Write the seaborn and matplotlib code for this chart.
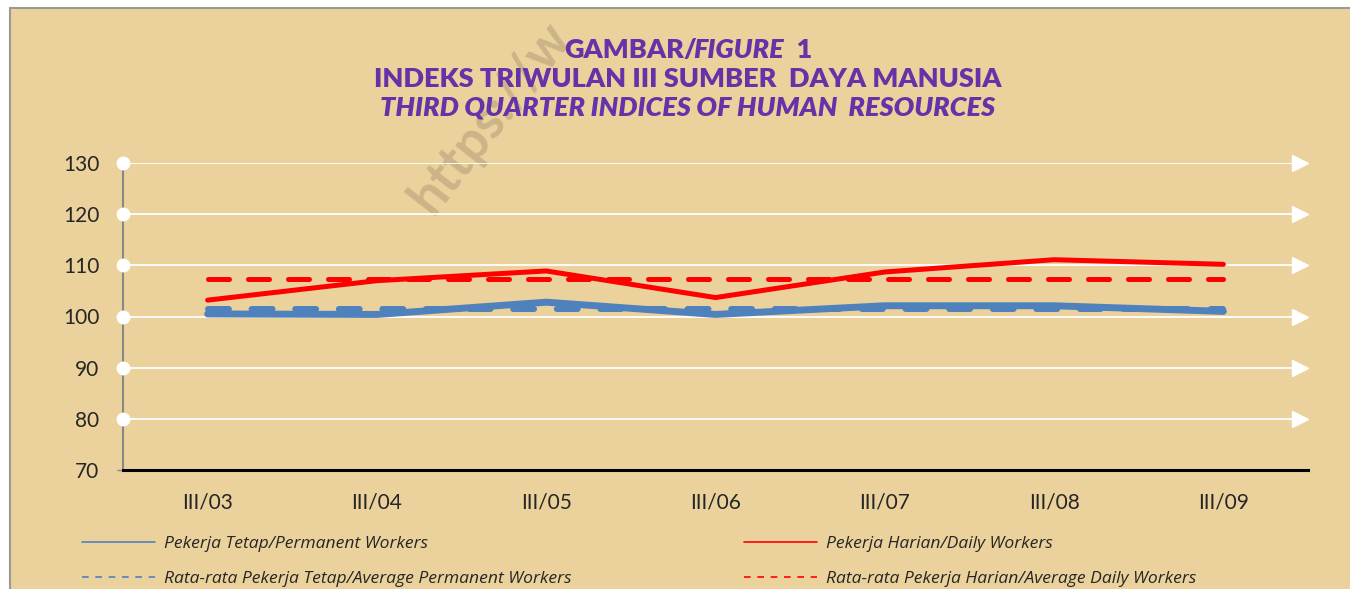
import matplotlib
matplotlib.use('Agg')
import matplotlib.pyplot as plt
import seaborn as sns
import pandas as pd
from matplotlib.patches import Rectangle
from matplotlib.lines import Line2D

# data
quarters = ['III/03', 'III/04', 'III/05', 'III/06', 'III/07', 'III/08', 'III/09']
tetap = [100.5, 100.4, 102.8, 100.4, 102.1, 102.1, 101.0]
harian = [103.2, 107.0, 108.9, 103.7, 108.7, 111.1, 110.2]
rata_tetap = [101.4] * 7
rata_harian = [107.4] * 7
yticks = [70, 80, 90, 100, 110, 120, 130]

df = pd.DataFrame({'q': quarters, 'tetap': tetap, 'harian': harian,
                   'rata_tetap': rata_tetap, 'rata_harian': rata_harian})

sns.set_style('white')
plt.rcParams['font.family'] = ['Lato', 'DejaVu Sans']

bg = '#EBD29C'
purple = '#6433A8'
blue = '#4F81BD'
red = '#FF0000'

fig = plt.figure(figsize=(13.5, 5.89), dpi=100)
fig.patch.set_facecolor('white')
# background frame of the chart
frame = Rectangle((10/1350, -0.01), 1.0, 1 - 8/589 + 0.01, transform=fig.transFigure,
                  facecolor=bg, edgecolor='#999999', lw=1.5, zorder=-10)
fig.patches.append(frame)

# faint watermark
fig.text(440/1350, 1 - 222/589, 'https://w', rotation=52,
         rotation_mode='anchor', ha='left', va='bottom', fontsize=38,
         fontweight='bold', color='#8a7a60', alpha=0.33, zorder=-5)

ax = fig.add_axes([123/1350, 1 - 470/589, (1308 - 123)/1350, (470 - 163)/589])
ax.set_facecolor('none')

# gridlines with arrow heads
for yv in yticks[1:]:
    ax.plot([-0.5, 6.45], [yv, yv], color='white', lw=1.3, zorder=1, solid_capstyle='butt')
    ax.plot([6.45], [yv], marker='>', color='white', ms=11, clip_on=False, zorder=1)
    ax.plot([-0.5], [yv], marker='o', color='white', ms=10, markeredgewidth=0,
            clip_on=False, zorder=3)

sns.lineplot(data=df, x='q', y='rata_tetap', ax=ax, color=blue, lw=4.3, sort=False,
             linestyle=(0, (3.5, 3.8)), dash_capstyle='round', zorder=4)
sns.lineplot(data=df, x='q', y='tetap', ax=ax, color=blue, lw=5, sort=False,
             solid_capstyle='round', solid_joinstyle='round', zorder=5)
sns.lineplot(data=df, x='q', y='rata_harian', ax=ax, color=red, lw=3.6, sort=False,
             linestyle=(0, (4.2, 3.8)), dash_capstyle='round', zorder=4)
sns.lineplot(data=df, x='q', y='harian', ax=ax, color=red, lw=3.6, sort=False,
             solid_capstyle='round', solid_joinstyle='round', zorder=5)

ax.set_xlim(-0.5, 6.5)
ax.set_ylim(70, 130)
ax.set_yticks(yticks)
ax.set_xlabel('')
ax.set_ylabel('')
ax.set_xticks(range(len(quarters)))
ax.set_xticklabels(quarters)
ax.set_xticks([i - 0.5 for i in range(len(quarters) + 1)], minor=True)
ax.tick_params(axis='x', which='major', length=0, pad=16, labelsize=15)
ax.tick_params(axis='x', which='minor', length=6, width=1.5, color='black', direction='out')
ax.tick_params(axis='y', length=4, width=1, color='#888888', pad=13, labelsize=15, left=True)

for s in ['top', 'right']:
    ax.spines[s].set_visible(False)
ax.spines['left'].set_color('#888888')
ax.spines['left'].set_linewidth(1.5)
ax.spines['bottom'].set_color('black')
ax.spines['bottom'].set_linewidth(2.2)

# legend (two columns, thin handles)
def handle(c, ls):
    return Line2D([], [], color=c, lw=1.2, linestyle=ls)
leg_kw = dict(frameon=False, handlelength=4.2, handletextpad=0.5, labelspacing=1.05,
              prop={'family': 'Open Sans', 'style': 'italic', 'size': 12.6})
fig.legend([handle(blue, '-'), handle(blue, (0, (4, 4)))],
           ['Pekerja Tetap/Permanent Workers',
            'Rata-rata Pekerja Tetap/Average Permanent Workers'],
           loc='upper left', bbox_to_anchor=(66/1350, 1 - 520/589), **leg_kw)
fig.legend([handle(red, '-'), handle(red, (0, (4, 4)))],
           ['Pekerja Harian/Daily Workers',
            'Rata-rata Pekerja Harian/Average Daily Workers'],
           loc='upper left', bbox_to_anchor=(728/1350, 1 - 520/589), **leg_kw)

# title, three lines, first one mixed upright/italic
tkw = dict(color=purple, fontweight='heavy', fontsize=19.5, va='center')
cx = 688 / 1350
fig.canvas.draw()
r = fig.canvas.get_renderer()
parts = [('GAMBAR/', 'normal'), ('FIGURE', 'italic'), ('  1', 'normal')]
texts = [fig.text(0, 1 - 50/589, p, style=st, ha='left', **tkw) for p, st in parts]
widths = [t.get_window_extent(r).width / 1350 for t in texts]
widths[0] -= 4 / 1350
x = cx - sum(widths) / 2
for t, w in zip(texts, widths):
    t.set_x(x)
    x += w
fig.text(cx, 1 - 79/589, 'INDEKS TRIWULAN III SUMBER  DAYA MANUSIA', ha='center', **tkw)
fig.text(cx, 1 - 107/589, 'THIRD QUARTER INDICES OF HUMAN  RESOURCES', ha='center',
         style='italic', **tkw)

fig.savefig('out.png', dpi=100, facecolor=fig.get_facecolor())
